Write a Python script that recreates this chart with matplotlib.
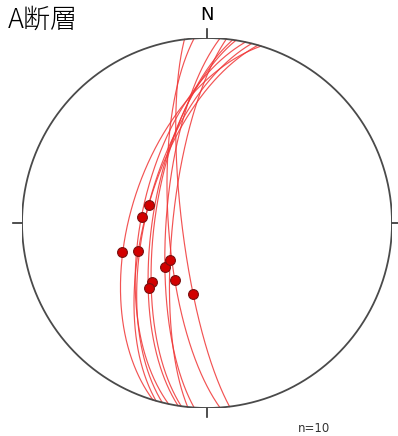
import numpy as np
import matplotlib
matplotlib.use("Agg")
import matplotlib.pyplot as plt

plt.rcParams['font.family'] = ['Noto Sans CJK JP', 'DejaVu Sans']

title = "A断層"
count_label = "n=10"
# fault planes: dip direction (deg) and dip (deg)
dip_dirs = [263, 266, 274, 276, 278, 279, 282, 284, 286, 287]
dips = [79, 73, 72, 75, 67, 66, 61, 63, 63, 56]
# lineations (striations): trend and plunge (deg)
trends = [191, 209, 224, 225, 223, 222, 275, 287, 248, 251]
plunges = [58, 61, 63, 67, 54, 51, 61, 63, 57, 50]

W, H, DPI = 398, 436, 100
fig = plt.figure(figsize=(W / DPI, H / DPI), dpi=DPI)
cx, cy, R = 207, 223, 185
ax = fig.add_axes([(cx - R) / W, (H - cy - R) / H, 2 * R / W, 2 * R / H])
ax.set_xlim(-1, 1)
ax.set_ylim(-1, 1)
ax.set_aspect('equal')
ax.axis('off')


def project(trend, plunge):
    t = np.radians(trend)
    r = np.sqrt(2) * np.sin(np.radians(90 - np.asarray(plunge)) / 2)
    return r * np.sin(t), r * np.cos(t)


def great_circle(dd, dip):
    s = np.radians(dd - 90)
    d = np.radians(dd)
    dp = np.radians(dip)
    a = np.radians(np.linspace(0, 180, 361))
    sv = np.array([np.sin(s), np.cos(s), 0.0])
    dv = np.array([np.sin(d) * np.cos(dp), np.cos(d) * np.cos(dp), -np.sin(dp)])
    v = np.outer(np.cos(a), sv) + np.outer(np.sin(a), dv)
    plunge = np.degrees(np.arcsin(np.clip(-v[:, 2], -1, 1)))
    trend = np.degrees(np.arctan2(v[:, 0], v[:, 1]))
    return project(trend, plunge)


for dd, dp in zip(dip_dirs, dips):
    x, y = great_circle(dd, dp)
    ax.plot(x, y, color='#f03535', lw=0.85, alpha=0.85, zorder=2)

px, py = project(np.array(trends), np.array(plunges))
ax.scatter(px, py, s=50, facecolor='#d20000', edgecolor='#7a1010', linewidth=0.8, zorder=3)

th = np.linspace(0, 2 * np.pi, 721)
ax.plot(np.cos(th), np.sin(th), color='#4a4a4a', lw=1.3, zorder=4)
tl = 0.05
ax.plot([0, 0], [1, 1 + tl], color='#303030', lw=1.2, clip_on=False)
ax.plot([0, 0], [-1, -1 - tl], color='#303030', lw=1.2, clip_on=False)
ax.plot([-1, -1 - tl], [0, 0], color='#303030', lw=1.2, clip_on=False)
ax.plot([1, 1 + 0.035], [0, 0], color='#303030', lw=1.2, clip_on=False)

fig.text(207 / W, 1 - 15 / H, "N", ha='center', va='center', fontsize=13, family=['DejaVu Sans'])
fig.text(8 / W, 1 - 20 / H, title, ha='left', va='center', fontsize=19.5, fontweight='light')
fig.text(298 / W, 1 - 428 / H, count_label, ha='left', va='center', fontsize=8.5, color='#333333', family=['DejaVu Sans'])

fig.savefig("out.png", dpi=DPI)
